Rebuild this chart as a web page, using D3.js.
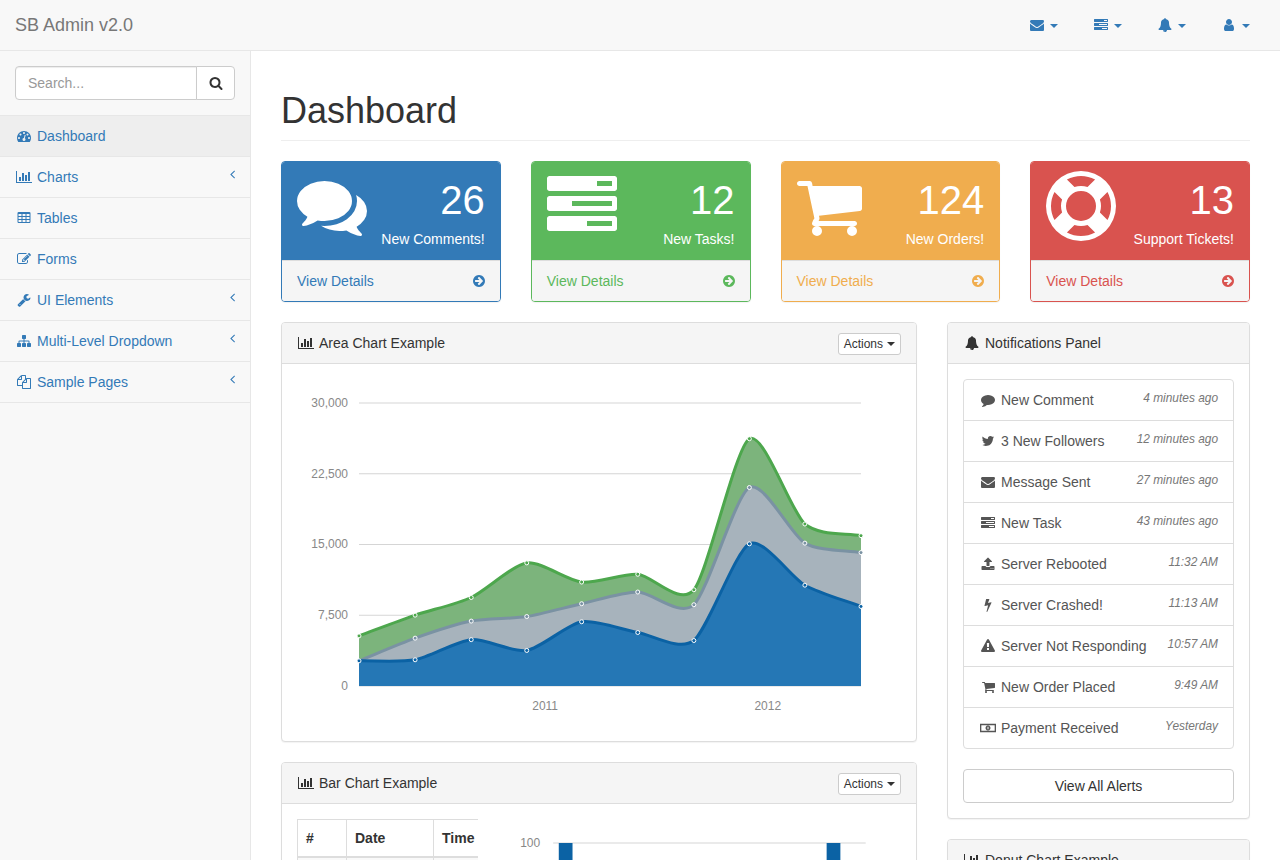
<!DOCTYPE html>
<html>
<head>
<meta charset="utf-8">
<title>SB Admin 2</title>
<script src="https://cdnjs.cloudflare.com/ajax/libs/d3/7.8.5/d3.min.js"></script>
<style>
* { box-sizing: border-box; }
html, body { margin: 0; height: 860px; overflow: hidden; background: #f8f8f8; }
body { font: 14px/1.42857143 "Liberation Sans", Arial, sans-serif; color: #333; }
a { color: #337ab7; text-decoration: none; }
.navbar { height: 51px; background: #f8f8f8; border-bottom: 1px solid #e7e7e7; display: flex; justify-content: space-between; }
.brand { padding: 15px; font-size: 18px; line-height: 20px; color: #777; }
.top-links { display: flex; padding-right: 15px; }
.top-links a { display: block; padding: 15px; margin-left: 4px; line-height: 20px; }
.caret { display: inline-block; width: 0; height: 0; margin-left: 4px; vertical-align: middle; border-top: 4px solid; border-right: 4px solid transparent; border-left: 4px solid transparent; }
.fw { display: inline-block; width: 18px; text-align: center; }
.sidebar { position: absolute; top: 51px; left: 0; width: 250px; }
.search { padding: 15px; border-bottom: 1px solid #e7e7e7; display: flex; }
.search .input { flex: 1; height: 34px; padding: 6px 12px; color: #999; background: #fff; border: 1px solid #ccc; border-radius: 4px 0 0 4px; box-shadow: inset 0 1px 1px rgba(0,0,0,.075); }
.search .go { width: 39px; height: 34px; margin-left: -1px; text-align: center; padding-top: 6px; background: #fff; border: 1px solid #ccc; border-radius: 0 4px 4px 0; color: #333; }
.side-item { display: block; height: 41px; padding: 10px 15px; border-bottom: 1px solid #e7e7e7; }
.side-item.active { background: #eee; }
.side-item .arrow { float: right; margin-top: -3px; }
.page { position: absolute; top: 51px; left: 250px; right: 0; height: 809px; padding: 0 30px; background: #fff; border-left: 1px solid #e7e7e7; }
h1 { margin: 40px 0 20px; padding-bottom: 9px; font-size: 36px; font-weight: 500; line-height: 1.1; border-bottom: 1px solid #eee; }
.row { display: flex; margin: 0 -15px; align-items: flex-start; }
.col3 { width: 25%; padding: 0 15px; }
.col8 { width: 66.66666667%; padding: 0 15px; }
.col4 { width: 33.33333333%; padding: 0 15px; }
.panel { margin-bottom: 20px; background: #fff; border: 1px solid #ddd; border-radius: 4px; box-shadow: 0 1px 1px rgba(0,0,0,.05); overflow: hidden; }
.panel-heading { padding: 10px 15px; height: 41px; background: #f5f5f5; border-bottom: 1px solid #ddd; }
.panel-body { padding: 15px; }
.stat-heading { display: flex; justify-content: space-between; padding: 10px 15px; color: #fff; height: 98px; }
.stat-text { text-align: right; }
.huge { font-size: 40px; }
.stat-footer { height: 41px; padding: 10px 15px; background: #f5f5f5; border-top: 1px solid #ddd; display: flex; justify-content: space-between; }
.btn-xs { float: right; padding: 1px 5px; font-size: 12px; line-height: 1.5; height: 22px; color: #333; background: #fff; border: 1px solid #ccc; border-radius: 3px; }
.list-group { border: 1px solid #ddd; border-radius: 4px; margin-bottom: 20px; }
.list-item { height: 41px; padding: 10px 15px; color: #555; border-bottom: 1px solid #ddd; }
.list-item:last-child { height: 40px; border-bottom: 0; }
.list-item em { float: right; font-size: 85%; color: #777; }
.btn-block { display: block; height: 34px; padding: 6px 12px; text-align: center; color: #333; background: #fff; border: 1px solid #ccc; border-radius: 4px; }
.table-wrap { width: 181.33px; flex: none; overflow: hidden; }
table { border-collapse: collapse; width: 520px; table-layout: fixed; }
th { height: 38px; padding: 8px; text-align: left; border: 1px solid #ddd; border-bottom-width: 2px; }
td { height: 37px; border: 1px solid #ddd; background: #f9f9f9; }
svg { display: inline-block; }
.chart text { font: 12px "Liberation Sans", Arial, sans-serif; fill: #888; }
.chart .domain { display: none; }
.chart .tick line { stroke: #aaa; stroke-width: .5; }
</style>
</head>
<body>
<div class="navbar"><div class="brand">SB Admin v2.0</div><div class="top-links"></div></div>
<div class="sidebar"></div>
<div class="page">
  <h1>Dashboard</h1>
  <div class="row" id="stats"></div>
  <div class="row">
    <div class="col8" id="left"></div>
    <div class="col4" id="right"></div>
  </div>
</div>
<script>
// area chart values
const quarters = ['2010 Q1', '2010 Q2', '2010 Q3', '2010 Q4', '2011 Q1', '2011 Q2', '2011 Q3', '2011 Q4', '2012 Q1', '2012 Q2']
const iphone = [2666, 2778, 4912, 3767, 6810, 5670, 4820, 15073, 10687, 8432]
const ipad = [null, 2294, 1969, 3597, 1914, 4293, 3795, 5967, 4460, 5713]
const itouch = [2647, 2441, 2501, 5689, 2293, 1881, 1588, 5175, 2028, 1791]
const areaTicks = [0, 7500, 15000, 22500, 30000]
const areaYears = [2011, 2012]
const lineColors = ['#0b62a4', '#7a92a3', '#4da74d']
const fillColors = ['#2577b5', '#a7b3bc', '#7cb47c']

// bar chart values, only the first and last slot reach into the picture
const barSlots = [1, 2, 3, 4, 5, 6, 7]
const barValues = [100, null, null, null, null, null, 100]
const barTicks = [100]

const navLabels = ['Dashboard', 'Charts', 'Tables', 'Forms', 'UI Elements', 'Multi-Level Dropdown', 'Sample Pages']
const navIcons = ['dashboard', 'barChart', 'table', 'edit', 'wrench', 'sitemap', 'files']
const navArrows = [false, true, false, false, true, true, true]
const topIcons = ['envelope', 'tasks', 'bell', 'user']

const statValues = ['26', '12', '124', '13']
const statLabels = ['New Comments!', 'New Tasks!', 'New Orders!', 'Support Tickets!']
const statIcons = ['comments', 'tasks', 'cart', 'support']
const statColors = ['#337ab7', '#5cb85c', '#f0ad4e', '#d9534f']

const alertLabels = ['New Comment', '3 New Followers', 'Message Sent', 'New Task', 'Server Rebooted', 'Server Crashed!', 'Server Not Responding', 'New Order Placed', 'Payment Received']
const alertTimes = ['4 minutes ago', '12 minutes ago', '27 minutes ago', '43 minutes ago', '11:32 AM', '11:13 AM', '10:57 AM', '9:49 AM', 'Yesterday']
const alertIcons = ['comment', 'twitter', 'envelope', 'tasks', 'upload', 'bolt', 'warning', 'cart', 'money']

const tableHeaders = ['#', 'Date', 'Time', '']

// icon outlines, [minX, width, path] on a 1792 unit em
const ICONS = {
  envelope: [0, 1792, 'M1792 710v794q0 66-47 113t-113 47h-1472q-66 0-113-47t-47-113v-794q44 49 101 87 362 246 497 345 57 42 92.5 65.5t94.5 48 110 24.5h2q51 0 110-24.5t94.5-48 92.5-65.5q170-123 498-345 57-39 100-87zm0-294q0 79-49 151t-122 123q-376 261-468 325-10 7-42.5 30.5t-54 38-52 32.5-57.5 27-50 9h-2q-23 0-50-9t-57.5-27-52-32.5-54-38-42.5-30.5q-91-64-262-182.5t-205-142.5q-62-42-117-115.5t-55-136.5q0-78 41.5-130t118.5-52h1472q65 0 112.5 47t47.5 113z'],
  tasks: [0, 1792, 'M1024 1408h640v-128h-640v128zm-384-512h1024v-128h-1024v128zm640-512h384v-128h-384v128zm512 832v256q0 26-19 45t-45 19h-1664q-26 0-45-19t-19-45v-256q0-26 19-45t45-19h1664q26 0 45 19t19 45zm0-512v256q0 26-19 45t-45 19h-1664q-26 0-45-19t-19-45v-256q0-26 19-45t45-19h1664q26 0 45 19t19 45zm0-512v256q0 26-19 45t-45 19h-1664q-26 0-45-19t-19-45v-256q0-26 19-45t45-19h1664q26 0 45 19t19 45z'],
  bell: [0, 1792, 'M912 1696q0-16-16-16-59 0-101.5-42.5t-42.5-101.5q0-16-16-16t-16 16q0 73 51.5 124.5t124.5 51.5q16 0 16-16zm816-288q0 52-38 90t-90 38h-448q0 106-75 181t-181 75-181-75-75-181h-448q-52 0-90-38t-38-90q50-42 91-88t85-119.5 74.5-158.5 50-206 19.5-260q0-152 117-282.5t307-158.5q-8-19-8-39 0-40 28-68t68-28 68 28 28 68q0 20-8 39 190 28 307 158.5t117 282.5q0 139 19.5 260t50 206 74.5 158.5 85 119.5 91 88z'],
  user: [0, 1792, 'M1536 1399q0 109-62.5 187t-150.5 78h-854q-88 0-150.5-78t-62.5-187q0-85 8.5-160.5t31.5-152 58.5-131 94-89 134.5-34.5q131 128 313 128t313-128q76 0 134.5 34.5t94 89 58.5 131 31.5 152 8.5 160.5zm-256-887q0 159-112.5 271.5t-271.5 112.5-271.5-112.5-112.5-271.5 112.5-271.5 271.5-112.5 271.5 112.5 112.5 271.5z'],
  comment: [0, 1792, 'M1792 896q0 174-120 321.5t-326 233-450 85.5q-70 0-145-8-198 175-460 242-49 14-114 22-17 2-30.5-9t-17.5-29v-1q-3-4-.5-12t2-10 4.5-9.5l6-9 7-8.5 8-9q7-8 31-34.5t34.5-38 31-39.5 32.5-51 27-59 26-76q-157-89-247.5-220t-90.5-281q0-130 71-248.5t191-204.5 286-136.5 348-50.5q244 0 450 85.5t326 233 120 321.5z'],
  twitter: [0, 1792, 'M1684 408q-67 98-162 167 1 14 1 42 0 130-38 259.5t-115.5 248.5-184.5 210.5-258 146-323 54.5q-271 0-496-145 35 4 76 4 225 0 401-138-105-2-188-64.5t-114-159.5q33 5 61 5 43 0 85-11-112-23-185.5-111.5t-73.5-205.5v-4q68 38 146 41-66-44-105-115t-39-154q0-88 44-163 121 149 294.5 238.5t371.5 99.5q-8-38-8-74 0-134 94.5-228.5t228.5-94.5q140 0 236 102 109-21 205-78-37 115-142 178 91-10 182-49z'],
  bolt: [0, 1792, 'M1333 566q18 20 7 44l-540 1157q-13 25-42 25-4 0-14-2-17-5-25.5-19t-4.5-30l197-808-406 101q-4 1-12 1-18 0-31-11-18-15-13-39l201-825q4-14 16-23t28-9h328q19 0 32 12.5t13 29.5q0 8-5 18l-171 463 396-98q8-2 12-2 19 0 34 15z'],
  warning: [0, 1792, 'M1024 1375v-190q0-14-9.5-23.5t-22.5-9.5h-192q-13 0-22.5 9.5t-9.5 23.5v190q0 14 9.5 23.5t22.5 9.5h192q13 0 22.5-9.5t9.5-23.5zm-2-374l18-459q0-12-10-19-13-11-24-11h-220q-11 0-24 11-10 7-10 21l17 457q0 10 10 16.5t24 6.5h185q14 0 23.5-6.5t10.5-16.5zm-14-934l768 1408q35 63-2 126-17 29-46.5 46t-63.5 17h-1536q-34 0-63.5-17t-46.5-46q-37-63-2-126l768-1408q17-31 47-49t65-18 65 18 47 49z'],
  search: [0, 1792, 'M1216 832q0-185-131.5-316.5t-316.5-131.5-316.5 131.5-131.5 316.5 131.5 316.5 316.5 131.5 316.5-131.5 131.5-316.5zm512 832q0 52-38 90t-90 38q-54 0-90-38l-343-342q-179 124-399 124-143 0-273.5-55.5t-225-150-150-225-55.5-273.5 55.5-273.5 150-225 225-150 273.5-55.5 273.5 55.5 225 150 150 225 55.5 273.5q0 220-124 399l343 343q37 37 37 90z'],
  arrowRight: [0, 1536, 'M1285 896q0-27-18-45l-91-91-362-362q-18-18-45-18t-45 18l-91 91q-18 18-18 45t18 45l189 189h-502q-26 0-45 19t-19 45v128q0 26 19 45t45 19h502l-189 189q-19 19-19 45t19 45l91 91q18 18 45 18t45-18l362-362 91-91q18-18 18-45zm251 0q0 209-103 385.5t-279.5 279.5-385.5 103-385.5-103-279.5-279.5-103-385.5 103-385.5 279.5-279.5 385.5-103 385.5 103 279.5 279.5 103 385.5z'],
  cart: [64, 1664, 'M704 1536q0 52-38 90t-90 38-90-38-38-90 38-90 90-38 90 38 38 90zm896 0q0 52-38 90t-90 38-90-38-38-90 38-90 90-38 90 38 38 90zm128-1088v512q0 24-16.5 42.5t-40.5 21.5l-1044 122q13 60 13 70 0 16-24 64h920q26 0 45 19t19 45-19 45-45 19h-1024q-26 0-45-19t-19-45q0-11 8-31.5t16-36 21.5-40 15.5-29.5l-177-823h-204q-26 0-45-19t-19-45 19-45 45-19h256q16 0 28.5 6.5t19.5 15.5 13 24.5 8 26 5.5 29.5 4.5 26h1201q26 0 45 19t19 45z'],
  comments: [0, 1792, 'M1408 768q0 139-94 257t-256.5 186.5-353.5 68.5q-86 0-176-16-124 88-278 128-36 9-86 16h-3q-11 0-20.5-8t-11.5-21q-1-3-1-6.5t.5-6.5 2-6l2.5-5 3.5-5.5 4-5 4.5-5 4-4.5q5-6 23-25t26-29.5 22.5-29 25-38.5 20.5-44q-124-72-195-177t-71-224q0-139 94-257t256.5-186.5 353.5-68.5 353.5 68.5 256.5 186.5 94 257zm384 256q0 120-71 224.5t-195 176.5q10 24 20.5 44t25 38.5 22.5 29 26 29.5 23 25q1 1 4 4.5t4.5 5 4 5 3.5 5.5l2.5 5 2 6 .5 6.5-1 6.5q-3 14-13 22t-22 7q-50-7-86-16-154-40-278-128-90 16-176 16-271 0-472-132 58 4 88 4 161 0 309-45t264-129q125-92 192-212t67-254q0-77-23-152 129 71 204 178t75 230z'],
  support: [0, 1792, 'M896 0q182 0 348 71t286 191 191 286 71 348-71 348-191 286-286 191-348 71-348-71-286-191-191-286-71-348 71-348 191-286 286-191 348-71zm0 128q-190 0-361 90l194 194q82-28 167-28t167 28l194-194q-171-90-361-90zm-678 1129l194-194q-28-82-28-167t28-167l-194-194q-90 171-90 361t90 361zm678 407q190 0 361-90l-194-194q-82 28-167 28t-167-28l-194 194q171 90 361 90zm0-384q159 0 271.5-112.5t112.5-271.5-112.5-271.5-271.5-112.5-271.5 112.5-112.5 271.5 112.5 271.5 271.5 112.5zm484-217l194 194q90-171 90-361t-90-361l-194 194q28 82 28 167t-28 167z'],
  barChart: [0, 2048, 'M640 896v512h-256v-512h256zm384-512v1024h-256v-1024h256zm1024 1152v128h-2048v-1536h128v1408h1920zm-640-896v768h-256v-768h256zm384-384v1152h-256v-1152h256z'],
  table: [0, 1792, 'M576 1376v-192q0-14-9-23t-23-9h-320q-14 0-23 9t-9 23v192q0 14 9 23t23 9h320q14 0 23-9t9-23zm0-384v-192q0-14-9-23t-23-9h-320q-14 0-23 9t-9 23v192q0 14 9 23t23 9h320q14 0 23-9t9-23zm512 384v-192q0-14-9-23t-23-9h-320q-14 0-23 9t-9 23v192q0 14 9 23t23 9h320q14 0 23-9t9-23zm-512-768v-192q0-14-9-23t-23-9h-320q-14 0-23 9t-9 23v192q0 14 9 23t23 9h320q14 0 23-9t9-23zm512 384v-192q0-14-9-23t-23-9h-320q-14 0-23 9t-9 23v192q0 14 9 23t23 9h320q14 0 23-9t9-23zm512 384v-192q0-14-9-23t-23-9h-320q-14 0-23 9t-9 23v192q0 14 9 23t23 9h320q14 0 23-9t9-23zm-512-768v-192q0-14-9-23t-23-9h-320q-14 0-23 9t-9 23v192q0 14 9 23t23 9h320q14 0 23-9t9-23zm512 384v-192q0-14-9-23t-23-9h-320q-14 0-23 9t-9 23v192q0 14 9 23t23 9h320q14 0 23-9t9-23zm0-384v-192q0-14-9-23t-23-9h-320q-14 0-23 9t-9 23v192q0 14 9 23t23 9h320q14 0 23-9t9-23zm128-320v1088q0 66-47 113t-113 47h-1344q-66 0-113-47t-47-113v-1088q0-66 47-113t113-47h1344q66 0 113 47t47 113z'],
  edit: [0, 1792, 'M888 1184l116-116-152-152-116 116v56h96v96h56zm440-720q-16-16-33 1l-350 350q-17 17-1 33t33-1l350-350q17-17 1-33zm80 594v190q0 119-84.5 203.5t-203.5 84.5h-832q-119 0-203.5-84.5t-84.5-203.5v-832q0-119 84.5-203.5t203.5-84.5h832q63 0 117 25 15 7 18 23 3 17-9 29l-49 49q-14 14-32 8-23-6-45-6h-832q-66 0-113 47t-47 113v832q0 66 47 113t113 47h832q66 0 113-47t47-113v-126q0-13 9-22l64-64q15-15 35-7t20 29zm-96-738l288 288-672 672h-288v-288zm444 132l-92 92-288-288 92-92q28-28 68-28t68 28l152 152q28 28 28 68t-28 68z'],
  wrench: [0, 1792, 'M448 1472q0-26-19-45t-45-19-45 19-19 45 19 45 45 19 45-19 19-45zm644-420l-682 682q-37 37-90 37-52 0-91-37l-106-108q-38-36-38-90 0-53 38-91l681-681q39 98 114.5 173.5t173.5 114.5zm634-435q0 39-23 106-47 134-164.5 217.5t-258.5 83.5q-185 0-316.5-131.5t-131.5-316.5 131.5-316.5 316.5-131.5q58 0 121.5 16.5t107.5 46.5q16 11 16 28t-16 28l-293 169v224l193 107q5-3 79-48.5t135.5-81 70.5-35.5q15 0 23.5 10t8.5 25z'],
  sitemap: [0, 1792, 'M1792 1248v320q0 40-28 68t-68 28h-320q-40 0-68-28t-28-68v-320q0-40 28-68t68-28h96v-192h-512v192h96q40 0 68 28t28 68v320q0 40-28 68t-68 28h-320q-40 0-68-28t-28-68v-320q0-40 28-68t68-28h96v-192h-512v192h96q40 0 68 28t28 68v320q0 40-28 68t-68 28h-320q-40 0-68-28t-28-68v-320q0-40 28-68t68-28h96v-192q0-52 38-90t90-38h512v-192h-96q-40 0-68-28t-28-68v-320q0-40 28-68t68-28h320q40 0 68 28t28 68v320q0 40-28 68t-68 28h-96v192h512q52 0 90 38t38 90v192h96q40 0 68 28t28 68z'],
  files: [0, 1792, 'M1696 384q40 0 68 28t28 68v1216q0 40-28 68t-68 28h-960q-40 0-68-28t-28-68v-288h-544q-40 0-68-28t-28-68v-672q0-40 20-88t48-76l408-408q28-28 76-48t88-20h416q40 0 68 28t28 68v328q68-40 128-40h416zm-544 213l-299 299h299v-299zm-640-384l-299 299h299v-299zm196 647l316-316v-416h-384v416q0 40-28 68t-68 28h-416v640h512v-256q0-40 20-88t48-76zm956 804v-1152h-384v416q0 40-28 68t-68 28h-416v640h896z'],
  dashboard: [0, 1792, 'M384 1152q0-53-37.5-90.5t-90.5-37.5-90.5 37.5-37.5 90.5 37.5 90.5 90.5 37.5 90.5-37.5 37.5-90.5zm192-448q0-53-37.5-90.5t-90.5-37.5-90.5 37.5-37.5 90.5 37.5 90.5 90.5 37.5 90.5-37.5 37.5-90.5zm428 481l101-382q6-26-7.5-48.5t-38.5-29.5-48 6.5-30 39.5l-101 382q-60 5-107 43.5t-63 98.5q-20 77 20 146t117 89 146-20 89-117q16-60-6-117t-72-91zm660-33q0-53-37.5-90.5t-90.5-37.5-90.5 37.5-37.5 90.5 37.5 90.5 90.5 37.5 90.5-37.5 37.5-90.5zm-640-640q0-53-37.5-90.5t-90.5-37.5-90.5 37.5-37.5 90.5 37.5 90.5 90.5 37.5 90.5-37.5 37.5-90.5zm448 192q0-53-37.5-90.5t-90.5-37.5-90.5 37.5-37.5 90.5 37.5 90.5 90.5 37.5 90.5-37.5 37.5-90.5zm320 448q0 261-141 483-19 29-54 29h-1402q-35 0-54-29-141-221-141-483 0-182 71-348t191-286 286-191 348-71 348 71 286 191 191 286 71 348z'],
  upload: [0, 1792, 'M1344 1472q0-26-19-45t-45-19-45 19-19 45 19 45 45 19 45-19 19-45zm256 0q0-26-19-45t-45-19-45 19-19 45 19 45 45 19 45-19 19-45zm128-224v320q0 40-28 68t-68 28h-1472q-40 0-68-28t-28-68v-320q0-40 28-68t68-28h427q21 56 70.5 92t110.5 36h256q61 0 110.5-36t70.5-92h427q40 0 68 28t28 68zm-325-648q-17 40-59 40h-256v448q0 26-19 45t-45 19h-256q-26 0-45-19t-19-45v-448h-256q-42 0-59-40-17-39 14-69l448-448q18-19 45-19t45 19l448 448q31 30 14 69z'],
  money: [0, 2048, 'M0 352H2048V1440H0Z M170 540V1252H1878V540Z M1024 590a320 306 0 1 1 -1 0Z M960 730V1060H1090V730Z'],
  angle: [0, 640, 'M627 544q0 13-10 23l-393 393 393 393q10 10 10 23t-10 23l-50 50q-10 10-23 10t-23-10l-466-466q-10-10-10-23t10-23l466-466q10-10 23-10t23 10l50 50q10 10 10 23z']
}

function icon(sel, name, size = 14) {
  const [minX, w, d] = ICONS[name]
  sel.append('svg')
    .attr('width', w / 1792 * size)
    .attr('height', size)
    .attr('viewBox', `${minX} 0 ${w} 1792`)
    .style('vertical-align', `${-size / 7}px`)
    .append('path')
    .attr('d', d)
    .attr('fill', 'currentColor')
}

function fwIcon(sel, name) {
  icon(sel.append('span').attr('class', 'fw'), name)
}

function heading(panel, iconName, title, actions) {
  const head = panel.append('div').attr('class', 'panel-heading')
  if (actions) {
    const btn = head.append('div').attr('class', 'btn-xs').text('Actions')
    btn.append('span').attr('class', 'caret')
  }
  fwIcon(head, iconName)
  head.append('span').style('margin-left', '4px').text(title)
}

// top nav
topIcons.forEach(name => {
  const a = d3.select('.top-links').append('a')
  fwIcon(a, name)
  a.append('span').attr('class', 'caret')
})

// sidebar
const sidebar = d3.select('.sidebar')
const search = sidebar.append('div').attr('class', 'search')
search.append('div').attr('class', 'input').text('Search...')
icon(search.append('div').attr('class', 'go'), 'search')

navLabels.forEach((label, i) => {
  const a = sidebar.append('a').attr('class', 'side-item' + (i === 0 ? ' active' : ''))
  if (navArrows[i]) icon(a.append('span').attr('class', 'arrow'), 'angle')
  fwIcon(a, navIcons[i])
  a.append('span').style('margin-left', '4px').text(label)
})

// stat panels
statValues.forEach((value, i) => {
  const col = d3.select('#stats').append('div').attr('class', 'col3')
  const panel = col.append('div').attr('class', 'panel').style('border-color', statColors[i])
  const head = panel.append('div').attr('class', 'stat-heading').style('background', statColors[i])
  const left = head.append('div')
  icon(left, statIcons[i], 70)
  left.select('svg').style('display', 'block').style('margin-top', '-1px')
  const text = head.append('div').attr('class', 'stat-text')
  text.append('div').attr('class', 'huge').text(value)
  text.append('div').text(statLabels[i])
  const foot = panel.append('div').attr('class', 'stat-footer').style('color', statColors[i])
  foot.append('span').text('View Details')
  icon(foot.append('span'), 'arrowRight')
})

// smooth path as the chart library of the dashboard computes it: hermite with
// tangents from the neighbouring points and handles a quarter of the way along
function hermiteCurve(context) {
  let pts, line
  return {
    areaStart() { line = 0 },
    areaEnd() { line = NaN },
    lineStart() { pts = [] },
    point(x, y) { pts.push([x, y]) },
    lineEnd() {
      const grad = pts.map((p, i) => {
        const a = pts[Math.max(i - 1, 0)]
        const b = pts[Math.min(i + 1, pts.length - 1)]
        return (b[1] - a[1]) / (b[0] - a[0])
      })
      pts.forEach((p, i) => {
        if (i === 0) {
          if (line === 1) context.lineTo(p[0], p[1])
          else context.moveTo(p[0], p[1])
          return
        }
        const q = pts[i - 1]
        const ix = (p[0] - q[0]) / 4
        context.bezierCurveTo(q[0] + ix, q[1] + ix * grad[i - 1], p[0] - ix, p[1] - ix * grad[i], p[0], p[1])
      })
      if (line === 1) context.closePath()
      line = 1 - line
    }
  }
}

function quarterDate(q) {
  const [year, part] = q.split(' Q')
  return new Date(+year, +part * 3 - 1, 1)
}

// area chart
const left = d3.select('#left')
const areaPanel = left.append('div').attr('class', 'panel')
heading(areaPanel, 'barChart', 'Area Chart Example', true)
const areaSvg = areaPanel.append('div').attr('class', 'panel-body')
  .append('svg').attr('class', 'chart').attr('width', 604).attr('height', 347).style('display', 'block')

const dates = quarters.map(quarterDate)
const rows = quarters.map((q, i) => ({ date: dates[i], iphone: iphone[i], ipad: ipad[i] || 0, itouch: itouch[i] }))
const keys = ['iphone', 'ipad', 'itouch']
const stacked = d3.stack().keys(keys)(rows)

const xArea = d3.scaleTime().domain(d3.extent(dates)).range([62, 564])
const yArea = d3.scaleLinear().domain([0, 30000]).range([307, 24])

areaSvg.append('g').attr('transform', 'translate(62,0)')
  .call(d3.axisLeft(yArea).tickValues(areaTicks).tickFormat(d3.format(',')).tickSize(-502).tickPadding(11).offset(0))
areaSvg.append('g').attr('transform', 'translate(-1,307)')
  .call(d3.axisBottom(xArea).tickValues(areaYears.map(y => new Date(y, 0, 1))).tickFormat(d3.timeFormat('%Y')).tickSize(0).tickPadding(15))

const area = d3.area().x(d => xArea(d.data.date)).y0(yArea(0)).y1(d => yArea(d[1])).curve(hermiteCurve)
const line = d3.line().x(d => xArea(d.data.date)).y(d => yArea(d[1])).curve(hermiteCurve)

d3.range(keys.length - 1, -1, -1).forEach(i => {
  areaSvg.append('path').attr('d', area(stacked[i])).attr('fill', fillColors[i])
})
d3.range(keys.length - 1, -1, -1).forEach(i => {
  areaSvg.append('path').attr('d', line(stacked[i])).attr('fill', 'none').attr('stroke', lineColors[i]).attr('stroke-width', 3)
})
d3.range(keys.length - 1, -1, -1).forEach(i => {
  areaSvg.append('g').selectAll('circle')
    .data(stacked[i].filter((d, j) => keys[i] !== 'ipad' || ipad[j] !== null))
    .join('circle')
    .attr('cx', d => xArea(d.data.date))
    .attr('cy', d => yArea(d[1]))
    .attr('r', 2)
    .attr('fill', lineColors[i])
    .attr('stroke', '#fff')
})

// bar chart panel
const barPanel = left.append('div').attr('class', 'panel')
heading(barPanel, 'barChart', 'Bar Chart Example', true)
const barBody = barPanel.append('div').attr('class', 'panel-body').style('display', 'flex')
const table = barBody.append('div').attr('class', 'table-wrap').append('table')
const widths = [49, 87, 150, 234]
table.append('tr').selectAll('th').data(tableHeaders).join('th')
  .style('width', (d, i) => widths[i] + 'px').text(d => d)
table.append('tr').selectAll('td').data(tableHeaders).join('td')

const barSvg = barBody.append('svg').attr('class', 'chart').attr('width', 393).attr('height', 352)
  .style('margin-left', '30px').style('display', 'block').style('flex', 'none')
const xBar = d3.scaleBand().domain(barSlots).range([45.2, 357.7]).paddingInner(0.25).paddingOuter(0.125)
const yBar = d3.scaleLinear().domain([0, 100]).range([307, 24])
barSvg.append('g').attr('transform', 'translate(45.2,0)')
  .call(d3.axisLeft(yBar).tickValues(barTicks).tickSize(-312.5).tickPadding(13).offset(0))
const barW = (xBar.bandwidth() - 6) / 2
barSvg.append('g').selectAll('rect')
  .data(barValues.map((v, i) => ({ slot: barSlots[i], v })).filter(d => d.v !== null))
  .join('rect')
  .attr('x', d => xBar(d.slot))
  .attr('y', d => yBar(d.v))
  .attr('width', barW)
  .attr('height', d => yBar(0) - yBar(d.v))
  .attr('fill', lineColors[0])

// notifications
const right = d3.select('#right')
const notif = right.append('div').attr('class', 'panel')
heading(notif, 'bell', 'Notifications Panel', false)
const notifBody = notif.append('div').attr('class', 'panel-body')
const list = notifBody.append('div').attr('class', 'list-group')
alertLabels.forEach((label, i) => {
  const item = list.append('div').attr('class', 'list-item')
  item.append('em').text(alertTimes[i])
  fwIcon(item, alertIcons[i])
  item.append('span').style('margin-left', '4px').text(label)
})
notifBody.append('div').attr('class', 'btn-block').text('View All Alerts')

const donut = right.append('div').attr('class', 'panel')
heading(donut, 'barChart', 'Donut Chart Example', false)
</script>
</body>
</html>
